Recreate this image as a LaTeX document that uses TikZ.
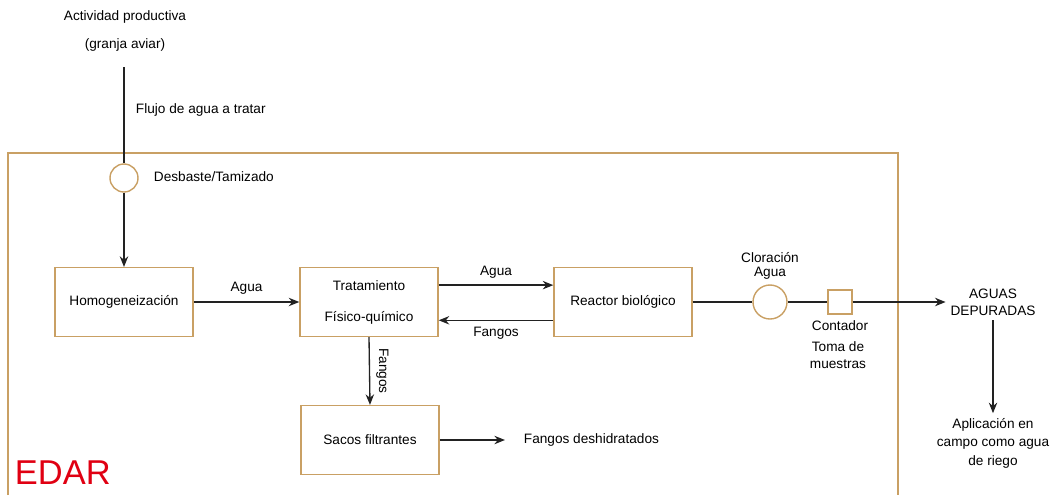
\documentclass[tikz,border=0pt]{standalone}
\usepackage{fontspec}
\setmainfont{Liberation Sans}
\usetikzlibrary{positioning, arrows.meta, calc}
\definecolor{edarbrown}{HTML}{C9A064}
\definecolor{edarred}{HTML}{E00012}
\definecolor{linegrey}{HTML}{222222}

\begin{document}
\begin{tikzpicture}[x=0.025cm, y=-0.025cm, font=\fontsize{9.7}{12}\selectfont,
    proc/.style={draw=edarbrown, line width=1pt, fill=white, minimum width=3.45cm, minimum height=1.72cm, align=center},
    valve/.style={draw=edarbrown, line width=1pt, circle, fill=white, inner sep=0pt},
    meter/.style={draw=edarbrown, line width=1pt, fill=white, minimum size=0.6cm, inner sep=0pt},
    flow/.style={draw=linegrey, line width=0.95pt, -{Stealth[length=7.5pt, width=6pt]}},
    pipe/.style={draw=linegrey, line width=0.95pt}]
        \useasboundingbox (0,0) rectangle (1052,495);

        % EDAR frame
        \draw[edarbrown, line width=1pt] (8,495) |- (898,153) -- (898,495);
        \node[edarred, font=\fontsize{24.5}{28}\selectfont, anchor=base west] (edar) at (10,484) {EDAR};

        % Origin of the water
        \node (actividad) at (125,17) {Actividad productiva};
        \node (granja) at (125,45) {(granja aviar)};
        \coordinate (entrada) at (124,67);
        \node[anchor=west] (flujo) at (131,110) {Flujo de agua a tratar};

        % Pre-treatment
        \node[valve, minimum size=0.7cm] (tamiz) at (124,178) {};
        \node[anchor=west] (tamizlbl) at (149,177) {Desbaste/Tamizado};

        % Process boxes
        \node[proc] (homog) at (124,302) {Homogeneización};
        \node[proc] (trat) at (369,302) {Tratamiento\\[10pt]Físico-químico};
        \node[proc] (reactor) at (623,302) {Reactor biológico};
        \node[proc] (sacos) at (370,440) {Sacos filtrantes};
        \node[anchor=west] (deshid) at (519,440) {Fangos deshidratados};

        % Chlorination and meter
        \node[valve, minimum size=0.85cm] (clora) at (770,302) {};
        \node[above=0pt of clora, font=\fontsize{9.7}{10.2}\selectfont, align=center] (cloralbl) {Cloración\\Agua};
        \node[meter] (contador) at (840,302) {};
        \node[below=1pt of contador] (contadorlbl) {Contador};
        \node[align=center] (toma) at (838,355) {Toma de\\muestras};

        % Outlet
        \node[align=center] (aguas) at (993,302) {AGUAS\\DEPURADAS};
        \node[align=center, font=\fontsize{9.7}{13.1}\selectfont] (riego) at (993,443) {Aplicación en\\campo como agua\\de riego};

        % Connectors
        \draw[pipe] (entrada) -- (tamiz.north);
        \draw[flow] (tamiz.south) -- (homog.north);
        \draw[flow] (homog.east) -- node[above=2pt] {Agua} (trat.west);
        \draw[flow] ([yshift=12pt]trat.east) -- node[above=1pt] {Agua} ([yshift=12pt]reactor.west);
        \draw[flow] ([yshift=-13pt]reactor.west) -- node[below=1pt] {Fangos} ([yshift=-13pt]trat.east);
        \draw[flow] (trat.south) -- node[midway, rotate=-90, anchor=south, yshift=1pt] {Fangos} (sacos.north);
        \draw[flow] (sacos.east) -- ([xshift=-10pt]deshid.west);
        \draw[pipe] (reactor.east) -- (clora.west);
        \draw[pipe] (clora.east) -- (contador.west);
        \draw[flow] (contador.east) -- (aguas.west |- contador.east);
        \draw[flow] (aguas.south) -- (riego.north);
    \end{tikzpicture}
\end{document}
